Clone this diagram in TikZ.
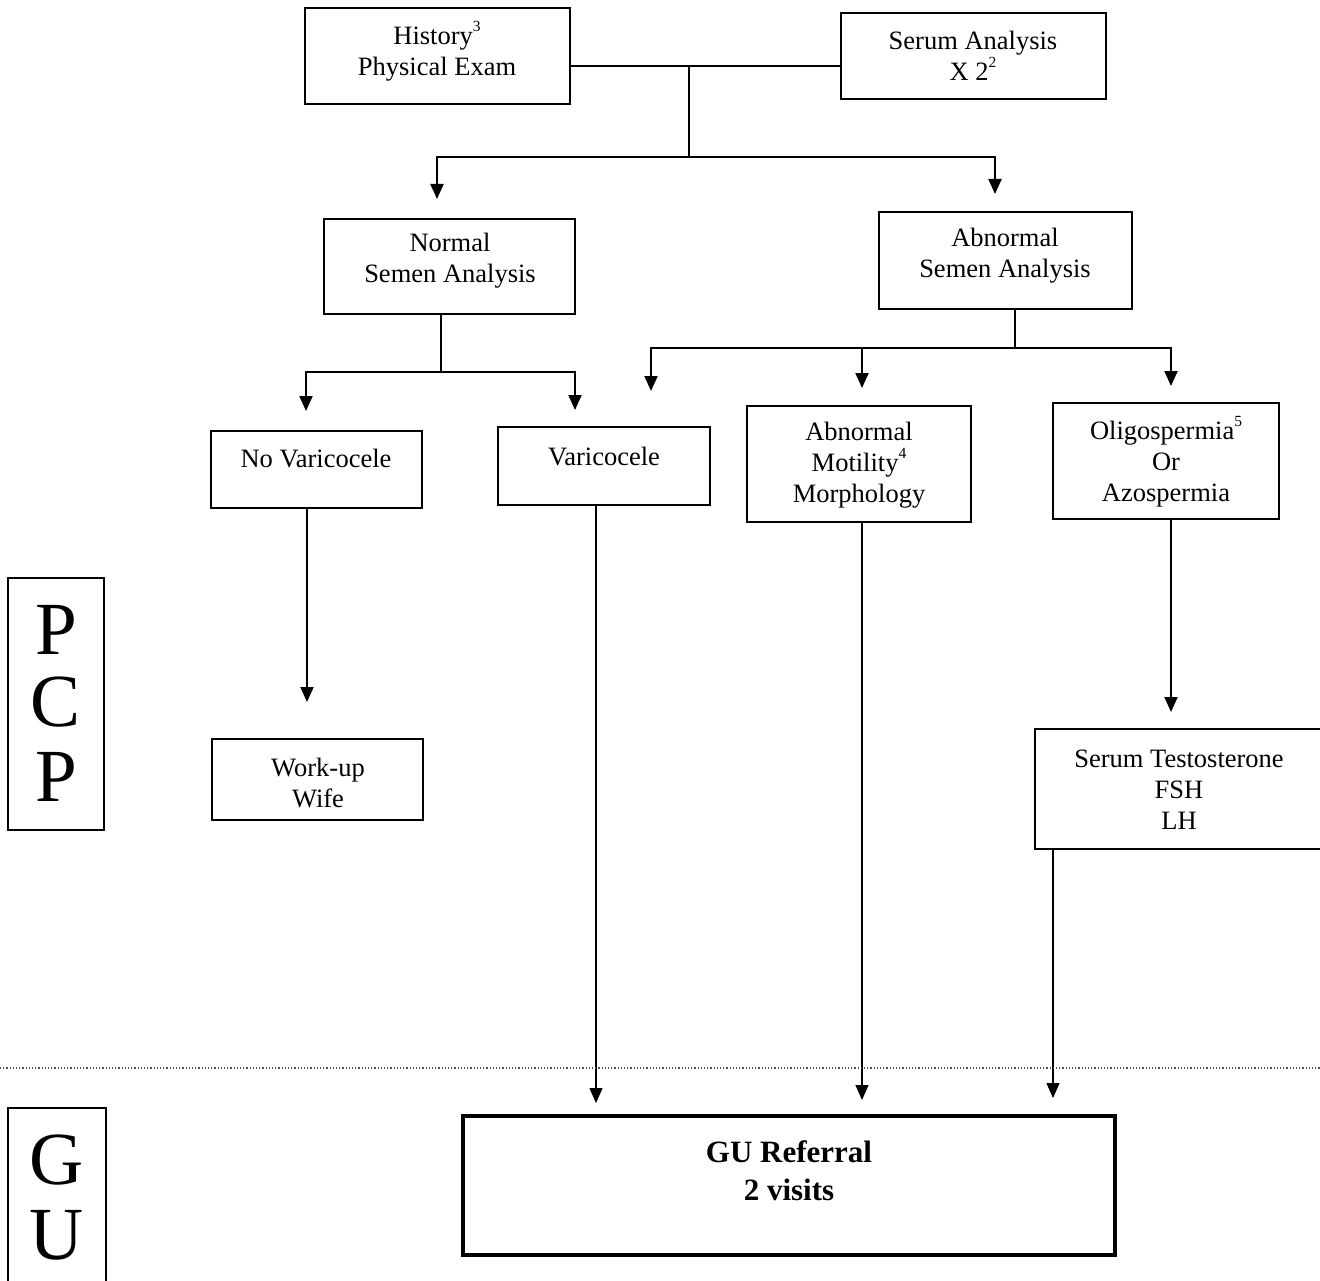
\documentclass[tikz,border=0pt]{standalone}
\usepackage{fontspec}
\setmainfont{Liberation Serif}
\usetikzlibrary{arrows.meta}
\newcommand{\supnum}[1]{\raisebox{0.5em}{\fontsize{15.5}{15.5}\selectfont #1}}
\begin{document}
\begin{tikzpicture}[x=1pt,y=-1pt,
  box/.style={draw, line width=1.6pt, inner sep=0pt},
  txt/.style={align=center, inner sep=0pt, font=\fontsize{26.5}{31}\selectfont},
  big/.style={inner sep=0pt, font=\fontsize{75}{75}\selectfont},
  link/.style={line width=2pt},
  arr/.style={line width=2pt, -{Triangle[width=13pt,length=15pt]}},
  longarr/.style={line width=1.3pt, -{Triangle[width=13pt,length=15pt]}}]
\useasboundingbox (0,0) rectangle (1320,1281);

% boxes
\node[box, minimum width=265pt, minimum height=96pt] (hist) at (437.5,56) {};
\node[box, minimum width=265pt, minimum height=86pt] (serum) at (973.5,56) {};
\node[box, minimum width=251pt, minimum height=95pt] (normal) at (449.5,266.5) {};
\node[box, minimum width=253pt, minimum height=97pt] (abn) at (1005.5,260.5) {};
\node[box, minimum width=211pt, minimum height=77pt] (novar) at (316.5,469.5) {};
\node[box, minimum width=212pt, minimum height=78pt] (var) at (604,466) {};
\node[box, minimum width=224pt, minimum height=116pt] (motil) at (859,464) {};
\node[box, minimum width=226pt, minimum height=116pt] (oligo) at (1166,461) {};
\node[box, minimum width=211pt, minimum height=81pt] (workup) at (317.5,779.5) {};
\node[box, minimum width=300pt, minimum height=120pt] (testo) at (1185,789) {};
\node[box, line width=3.5pt, minimum width=652pt, minimum height=139pt] (guref) at (789,1185.5) {};
\node[box, minimum width=96pt, minimum height=252pt] (pcp) at (56,704) {};
\node[box, minimum width=98pt, minimum height=200pt] (gu) at (57,1208) {};

% box texts
\node[txt] (histT) at (437,51) {History\supnum{3}\\Physical Exam};
\node[txt] (serumT) at (973,56) {Serum Analysis\\X 2\supnum{2}};
\node[txt] (normalT) at (450,261) {Normal\\Semen Analysis};
\node[txt] (abnT) at (1005,256) {Abnormal\\Semen Analysis};
\node[txt] (novarT) at (316,459) {No Varicocele};
\node[txt] (varT) at (604,457) {Varicocele};
\node[txt] (motilT) at (859,465) {Abnormal\\Motility\supnum{4}\\Morphology};
\node[txt] (oligoT) at (1166,462) {Oligospermia\supnum{5}\\Or\\Azospermia};
\node[txt] (workupT) at (318,783) {Work-up\\Wife};
\node[txt] (testoT) at (1179,790) {Serum Testosterone\\FSH\\LH};
\node[txt, font=\fontsize{31}{38}\selectfont\bfseries] (gurefT) at (789,1171) {GU Referral\\2 visits};
\node[big] (p1) at (56,630) {P};
\node[big] (c1) at (56,702) {C};
\node[big] (p2) at (56,777) {P};
\node[big] (g1) at (57,1160) {G};
\node[big] (u1) at (57,1235) {U};

% junctions and arrow tips
\coordinate (j1) at (689,66);
\coordinate (j2) at (689,157);
\coordinate (a1) at (437,199);
\coordinate (a2) at (995,194);
\coordinate (j3) at (441,372);
\coordinate (a3) at (306,411);
\coordinate (a4) at (575,410);
\coordinate (j4) at (1015,348);
\coordinate (a5) at (651,391);
\coordinate (a6) at (862,388);
\coordinate (a7) at (1171,386);
\coordinate (a8) at (307,702);
\coordinate (a9) at (1171,712);
\coordinate (t1) at (596,1103);
\coordinate (t2) at (862,1100);
\coordinate (t3) at (1053,1098);
\coordinate (d1) at (0,1068);
\coordinate (d2) at (1320,1068);

% top level
\draw[link] (j1 -| hist.east) -- (j1 -| serum.west);
\draw[link] (j1) -- (j2);
\draw[arr] (j2) -| (a1);
\draw[arr] (j2) -| (a2);

% normal branch
\draw[link] (j3 |- normal.south) -- (j3);
\draw[arr] (j3) -| (a3);
\draw[arr] (j3) -| (a4);

% abnormal branch
\draw[link] (j4 |- abn.south) -- (j4);
\draw[arr] (j4) -| (a5);
\draw[arr] (j4) -- (j4 -| a6) -- (a6);
\draw[arr] (j4) -| (a7);

% downstream
\draw[arr] (a8 |- novar.south) -- (a8);
\draw[arr] (a9 |- oligo.south) -- (a9);
\draw[longarr] (t1 |- var.south) -- (t1);
\draw[longarr] (t2 |- motil.south) -- (t2);
\draw[longarr] (t3 |- testo.south) -- (t3);

% PCP / GU divider
\draw[line width=1.2pt, dotted, black!70] (d1) -- (d2);
\end{tikzpicture}
\end{document}
